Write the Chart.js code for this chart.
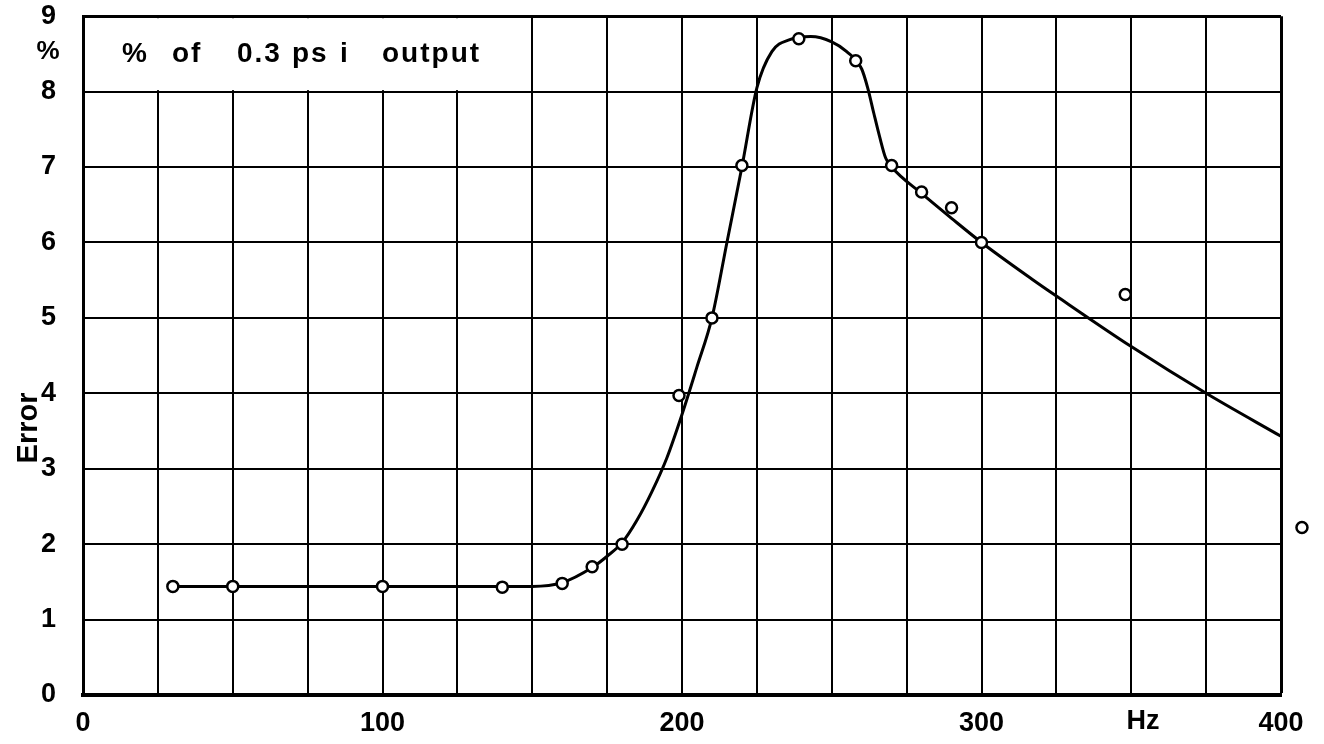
<!DOCTYPE html>
<html>
<head>
<meta charset="utf-8">
<script src="https://cdn.jsdelivr.net/npm/chart.js@4/dist/chart.umd.min.js"></script>
<style>
  html, body { margin: 0; padding: 0; background: #fff; }
  #wrap { width: 1324px; height: 744px; position: relative; }
</style>
</head>
<body>
<div id="wrap"><canvas id="myChart"></canvas></div>
<script>
// measured points (Hz, % error)
var pointHz  = [30, 50, 100, 140, 160, 170, 180, 199, 210, 220, 239, 258, 270, 280, 290, 300, 348];
var pointErr = [1.44, 1.44, 1.44, 1.43, 1.48, 1.70, 2.0, 3.97, 5.0, 7.02, 8.70, 8.41, 7.02, 6.67, 6.46, 6.0, 5.31];
// stray point plotted outside the frame, past 400 Hz
var outlierHz  = [407];
var outlierErr = [2.22];

// faired curve
var curveHz  = [30, 50, 100, 140, 150, 160, 170, 175, 180, 185, 190, 195, 200, 205, 210, 215, 220, 225, 230, 236, 243, 250, 255, 260, 262, 264, 266, 268, 270, 280, 290, 300, 317, 325, 350, 375, 400];
var curveErr = [1.44, 1.44, 1.44, 1.44, 1.44, 1.49, 1.69, 1.84, 2.02, 2.32, 2.70, 3.15, 3.72, 4.35, 5.0, 6.0, 7.0, 8.05, 8.53, 8.69, 8.73, 8.66, 8.53, 8.3, 8.05, 7.72, 7.4, 7.12, 7.0, 6.65, 6.32, 6.0, 5.51, 5.29, 4.62, 4.0, 3.43];

var xTickLabels = [0, 100, 200, 300, 400];
var legendText = ['%', 'of', '0.3', 'ps', 'i', 'output'];
var legendX    = [122, 172, 237, 292, 340, 382];

var FONT = '"Liberation Sans", Arial, sans-serif';

function toXY(xs, ys) {
    return xs.map(function(x, i) { return { x: x, y: ys[i] }; });
}

var extraText = {
    id: 'extraText',
    beforeDatasetsDraw: function(chart) {
        var c = chart.ctx;
        var xs = chart.scales.x, ys = chart.scales.y;
        // legend box covers the top-left row of the grid
        var l = xs.getPixelForValue(0) + 2;
        var r = xs.getPixelForValue(150) - 1.5;
        var t = ys.getPixelForValue(9) + 2;
        var b = ys.getPixelForValue(8) - 1.5;
        c.save();
        c.fillStyle = '#fff';
        c.fillRect(l, t, r - l, b - t);
        c.fillStyle = '#000';
        c.font = 'bold 28px ' + FONT;
        c.letterSpacing = '2px';
        c.textBaseline = 'middle';
        c.textAlign = 'left';
        var my = (t + b) / 2;
        legendText.forEach(function(s, i) {
            c.fillText(s, legendX[i], my);
        });
        c.restore();
    },
    afterDraw: function(chart) {
        var c = chart.ctx;
        var xs = chart.scales.x, ys = chart.scales.y;
        c.save();
        // chart.js skips points outside the chart area, so draw this one here
        c.lineWidth = 2.5;
        c.strokeStyle = '#000';
        c.fillStyle = '#fff';
        outlierHz.forEach(function(hz, i) {
            c.beginPath();
            c.arc(xs.getPixelForValue(hz), ys.getPixelForValue(outlierErr[i]), 5.5, 0, Math.PI * 2);
            c.fill();
            c.stroke();
        });
        c.fillStyle = '#000';
        c.textBaseline = 'middle';
        c.textAlign = 'center';
        c.font = 'bold 26px ' + FONT;
        c.fillText('%', 48, 52);
        c.font = 'bold 27px ' + FONT;
        c.fillText('Hz', 1143, 722);
        c.translate(29, 428);
        c.rotate(-Math.PI / 2);
        c.font = 'bold 29px ' + FONT;
        c.fillText('Error', 0, 0);
        c.restore();
    }
};

var context = document.getElementById('myChart').getContext('2d');
var myChart = new Chart(context, {
    type: 'scatter',
    data: {
        datasets: [{
            data: toXY(pointHz, pointErr),
            showLine: false,
            pointRadius: 5.5,
            pointBorderWidth: 2.5,
            pointBorderColor: '#000',
            pointBackgroundColor: '#fff'
        }, {
            data: toXY(curveHz, curveErr),
            showLine: true,
            pointRadius: 0,
            borderColor: '#000',
            borderWidth: 3,
            cubicInterpolationMode: 'monotone',
            fill: false
        }]
    },
    options: {
        responsive: true,
        maintainAspectRatio: false,
        animation: false,
        layout: { padding: { left: 0, right: 43, top: 15, bottom: 0 } },
        plugins: {
            legend: { display: false },
            tooltip: { enabled: false }
        },
        scales: {
            x: {
                type: 'linear',
                min: 0,
                max: 400,
                afterFit: function(scale) { scale.height = 49; },
                ticks: {
                    stepSize: 25,
                    padding: 0,
                    maxRotation: 0,
                    autoSkip: false,
                    color: '#000',
                    font: { family: FONT, size: 27, weight: 'bold' },
                    callback: function(v) {
                        return xTickLabels.indexOf(v) >= 0 ? String(v) : '';
                    }
                },
                grid: {
                    color: '#000',
                    drawTicks: true,
                    tickLength: 12,
                    tickColor: 'rgba(0,0,0,0)',
                    lineWidth: function(ctx) {
                        return ctx.tick && ctx.tick.value === 400 ? 3 : 2;
                    }
                },
                border: { color: '#000', width: 4 }
            },
            y: {
                min: 0,
                max: 9,
                afterFit: function(scale) { scale.width = 83; },
                ticks: {
                    stepSize: 1,
                    padding: 0,
                    color: '#000',
                    font: { family: FONT, size: 27, weight: 'bold' }
                },
                grid: {
                    color: '#000',
                    drawTicks: true,
                    tickLength: 27,
                    tickColor: 'rgba(0,0,0,0)',
                    lineWidth: function(ctx) {
                        return ctx.tick && ctx.tick.value === 9 ? 3 : 2;
                    }
                },
                border: { color: '#000', width: 3 }
            }
        }
    },
    plugins: [extraText]
});
</script>
</body>
</html>
